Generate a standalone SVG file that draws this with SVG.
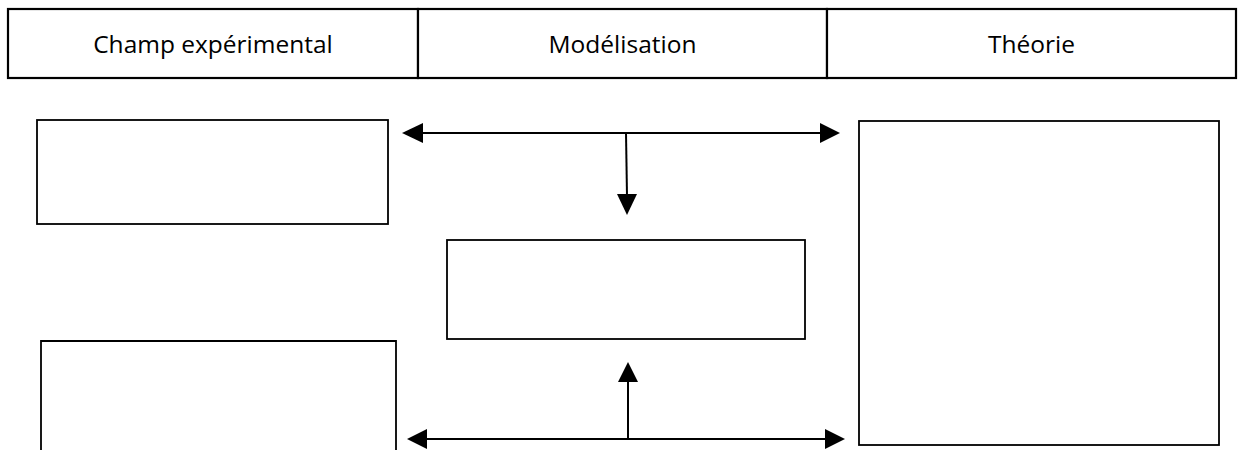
<svg xmlns="http://www.w3.org/2000/svg" width="1239" height="450" viewBox="0 0 1239 450">
<style>
.cell{fill:#fff;stroke:#000;stroke-width:2.2}
.box{fill:#fff;stroke:#000;stroke-width:1.8}
.lbl{font-family:"Open Sans","Liberation Sans",sans-serif;font-size:24.5px;fill:#000;text-anchor:middle}
.con{stroke:#000;stroke-width:2;fill:none}
.head{fill:#000}
</style>
<rect width="1239" height="450" fill="#fff"/>
<g id="header">
<g id="cell-champ"><rect class="cell" x="8" y="9" width="410" height="69"/><text class="lbl" x="213" y="53">Champ expérimental</text></g>
<g id="cell-modelisation"><rect class="cell" x="418" y="9" width="409" height="69"/><text class="lbl" x="622.5" y="53">Modélisation</text></g>
<g id="cell-theorie"><rect class="cell" x="827" y="9" width="409" height="69"/><text class="lbl" x="1031.5" y="53">Théorie</text></g>
</g>
<g id="box-exp-top"><rect class="box" x="37" y="120" width="351" height="104"/></g>
<g id="box-exp-bottom"><path class="box" d="M41,451 V341 H396 V451"/></g>
<g id="box-model"><rect class="box" x="447" y="240" width="358" height="99"/></g>
<g id="box-theorie"><rect class="box" x="859" y="121" width="360" height="324"/></g>
<g id="connectors">
<line class="con" x1="420" y1="133" x2="822" y2="133"/>
<polygon class="head" points="402,133 423,123 423,143"/>
<polygon class="head" points="840,133 820,123 820,143"/>
<line class="con" x1="626" y1="133" x2="627" y2="196"/>
<polygon class="head" points="627,215 617,194 637,194"/>
<line class="con" x1="425" y1="439" x2="827" y2="439"/>
<polygon class="head" points="407,439 427,429 427,449"/>
<polygon class="head" points="845,439 825,429 825,449"/>
<line class="con" x1="628" y1="380" x2="628" y2="439"/>
<polygon class="head" points="628,362 618,382 638,382"/>
</g>
</svg>
